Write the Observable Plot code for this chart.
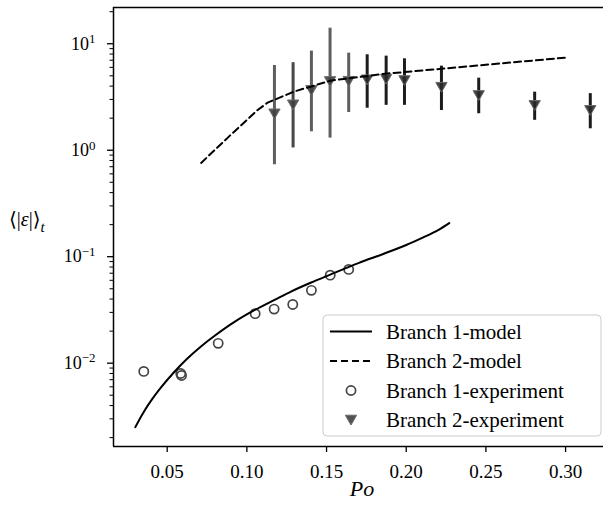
<!DOCTYPE html>
<html><head><meta charset="utf-8">
<script src="https://cdn.jsdelivr.net/npm/d3@7"></script>
<script src="https://cdn.jsdelivr.net/npm/@observablehq/plot@0.6"></script>
<style>
body{margin:0;background:#fff}
#chart{position:relative;width:603px;height:507px;overflow:hidden}
#chart svg text{font-family:"Liberation Serif","DejaVu Serif",serif !important}
</style>
</head><body><div id="chart"></div>
<script>
// ---- data ----
const b1ModelPo  = [0.030, 0.035, 0.040, 0.046, 0.054, 0.062, 0.071, 0.080, 0.092, 0.105, 0.118, 0.128, 0.140, 0.152, 0.170, 0.186, 0.200, 0.211, 0.220, 0.227];
const b1ModelEps = [0.00251, 0.00343, 0.00447, 0.00589, 0.00813, 0.01084, 0.01429, 0.0182, 0.0243, 0.0316, 0.0398, 0.0473, 0.0569, 0.0676, 0.0871, 0.1067, 0.1288, 0.1528, 0.178, 0.207];

const b2ModelPo  = [0.0713, 0.090, 0.1065, 0.113, 0.130, 0.1524, 0.187, 0.222, 0.260, 0.300];
const b2ModelEps = [0.76, 1.40, 2.37, 2.80, 3.57, 4.50, 5.23, 5.82, 6.55, 7.40];

const b1ExpPo  = [0.0353, 0.0585, 0.0590, 0.0820, 0.1052, 0.1171, 0.1288, 0.1405, 0.1523, 0.1639];
const b1ExpEps = [0.00837, 0.00800, 0.00767, 0.01535, 0.0292, 0.0322, 0.0356, 0.0483, 0.0671, 0.0760];

const b2ExpPo   = [0.1173, 0.1290, 0.1405, 0.1522, 0.1639, 0.1755, 0.1874, 0.1989, 0.2221, 0.2455, 0.2806, 0.3155];
const b2ExpMean = [2.20, 2.67, 3.65, 4.43, 4.45, 4.59, 4.66, 4.52, 3.91, 3.27, 2.64, 2.37];
const b2ExpLo   = [0.73, 1.05, 1.49, 1.30, 2.26, 2.48, 2.64, 2.64, 2.36, 2.20, 1.91, 1.59];
const b2ExpHi   = [6.25, 6.64, 8.53, 14.0, 8.16, 7.88, 7.65, 7.22, 6.16, 4.75, 3.51, 3.40];

const xTicks = [0.05, 0.10, 0.15, 0.20, 0.25, 0.30];
const yMajorTicks = [0.01, 0.1, 1, 10];
const legendLabels = ["Branch 1-model", "Branch 2-model", "Branch 1-experiment", "Branch 2-experiment"];
const xLabel = "Po";

// ---- tables ----
const b1Model = b1ModelPo.map((p, i) => ({po: p, eps: b1ModelEps[i]}));
const b2Model = b2ModelPo.map((p, i) => ({po: p, eps: b2ModelEps[i]}));
const b1Exp = b1ExpPo.map((p, i) => ({po: p, eps: b1ExpEps[i]}));
const b2Exp = b2ExpPo.map((p, i) => ({po: p, eps: b2ExpMean[i], lo: b2ExpLo[i], hi: b2ExpHi[i], k: i}));

const xDomain = [0.0163, 0.3238];
const yDomain = [0.00165, 21.9];
const yMinorTicks = [];
for (const dec of [0.001, 0.01, 0.1, 1, 10]) for (let m = 2; m <= 9; m++) {
  const v = dec * m; if (v >= yDomain[0] && v <= yDomain[1]) yMinorTicks.push(v);
}
const FONT = "Liberation Serif, DejaVu Serif, serif";
const barColor = d => d.k === 1 ? "#474747" : d.k < 5 ? "#5e5e5e" : "#1c1c1c";
const triFill = d => d.k < 5 ? "#3f3f3f" : "#2a2a2a";

const svg = Plot.plot({
  width: 603, height: 507,
  marginLeft: 113, marginRight: 0, marginTop: 7, marginBottom: 61,
  x: {type: "linear", domain: xDomain},
  y: {type: "log", domain: yDomain},
  style: {fontFamily: FONT, background: "white", color: "black"},
  marks: [
    Plot.axisX({ticks: xTicks, tickFormat: () => "", tickSize: 6, label: null, strokeWidth: 1.3}),
    Plot.text(xTicks, {x: d => d, text: d3.format(".2f"), frameAnchor: "bottom", lineAnchor: "middle", dy: 25, fontSize: 19, fill: "black"}),
    Plot.axisY({ticks: yMinorTicks, tickSize: 3.5, tickFormat: () => "", label: null, strokeWidth: 1}),
    Plot.axisY({ticks: yMajorTicks, tickSize: 6, tickPadding: 12, fontSize: 18, tickFormat: d => "10^" + Math.round(Math.log10(d)), label: null, strokeWidth: 1.3}),
    Plot.ruleX(b2Exp, {x: "po", y1: "lo", y2: "hi", stroke: barColor, strokeWidth: 3}),
    Plot.dot(b2Exp, {x: "po", y: "eps", symbol: "triangle", rotate: 180, r: 4.2, dy: -1.5, fill: triFill, fillOpacity: 0.9, stroke: "#6a6a6a", strokeWidth: 1}),
    Plot.dot(b1Exp, {x: "po", y: "eps", r: 4.6, fill: "none", stroke: "#444", strokeWidth: 1.7}),
    Plot.line(b1Model, {x: "po", y: "eps", curve: "catmull-rom", stroke: "black", strokeWidth: 2}),
    Plot.line(b2Model, {x: "po", y: "eps", stroke: "black", strokeWidth: 2, strokeDasharray: "7,4"}),
    Plot.ruleX([xDomain[0]], {stroke: "black", strokeWidth: 1.5}),
    Plot.ruleY([yDomain[0]], {stroke: "black", strokeWidth: 1.5}),
    Plot.ruleY([yDomain[1]], {stroke: "black", strokeWidth: 1.5})
  ]
});

document.getElementById("chart").appendChild(svg);
const s = d3.select(svg);

// superscript y tick labels
s.selectAll("text").each(function() {
  const t = d3.select(this);
  const txt = t.text();
  const m = /^10\^(-?\d+)$/.exec(txt);
  if (m) {
    t.text("");
    t.append("tspan").text("10");
    t.append("tspan").attr("dy", "-0.5em").attr("font-size", "0.72em").text(m[1].replace("-", "\u2212"));
  }
});

// y-axis label
const yl = s.append("text").attr("x", 9).attr("y", 226).attr("text-anchor", "start").attr("font-size", 20).attr("fill", "black");
yl.append("tspan").text("\u27E8|");
yl.append("tspan").attr("font-style", "italic").text("\u03B5");
yl.append("tspan").text("|\u27E9");
yl.append("tspan").attr("font-style", "italic").attr("font-size", 15).attr("dy", 6).text("t");

// x-axis label
s.append("text").attr("x", 362).attr("y", 496).attr("text-anchor", "middle")
  .attr("font-size", 22).attr("font-style", "italic").attr("fill", "black").text(xLabel);

// legend
const lg = s.append("g");
lg.append("rect").attr("x", 323).attr("y", 315).attr("width", 278).attr("height", 121)
  .attr("rx", 4).attr("fill", "white").attr("fill-opacity", 0.85).attr("stroke", "#cccccc").attr("stroke-width", 1);
const rows = [331.5, 361, 390.5, 420];
lg.append("line").attr("x1", 330).attr("x2", 372).attr("y1", rows[0]).attr("y2", rows[0]).attr("stroke", "black").attr("stroke-width", 2);
lg.append("line").attr("x1", 330).attr("x2", 372).attr("y1", rows[1]).attr("y2", rows[1]).attr("stroke", "black").attr("stroke-width", 2).attr("stroke-dasharray", "7,4");
lg.append("circle").attr("cx", 351).attr("cy", rows[2]).attr("r", 4.6).attr("fill", "none").attr("stroke", "#444").attr("stroke-width", 1.7);
lg.append("path").attr("d", d3.symbol(d3.symbolTriangle, 4.2 * 4.2 * Math.PI)()).attr("transform", `translate(351,${rows[3] - 1.5}) rotate(180)`)
  .attr("fill", "#3f3f3f").attr("fill-opacity", 0.9).attr("stroke", "#6a6a6a").attr("stroke-width", 1);
legendLabels.forEach((l, i) => {
  lg.append("text").attr("x", 386).attr("y", rows[i]).attr("dy", "0.35em").attr("text-anchor", "start").attr("font-size", 21).attr("fill", "black").text(l);
});
</script>
</body></html>
